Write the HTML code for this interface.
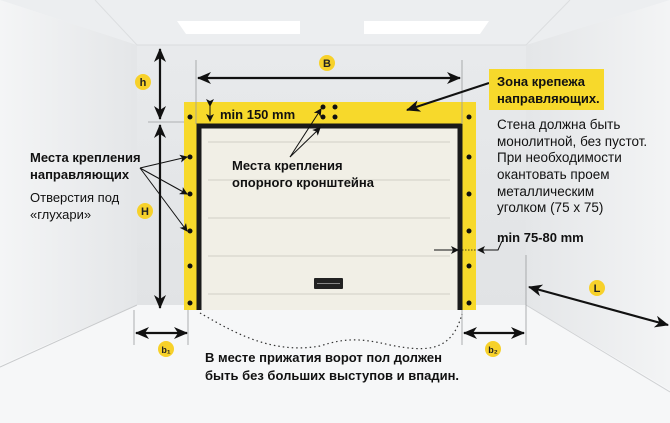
<!DOCTYPE html>
<html><head><meta charset="utf-8"><style>
html,body{margin:0;padding:0;background:#f2f3f4;}
svg{display:block;font-family:"Liberation Sans","Noto Sans CJK SC",sans-serif;}
.b{font-weight:bold;}
</style></head><body>
<svg width="670" height="423" viewBox="0 0 670 423" xmlns="http://www.w3.org/2000/svg">
<defs>
<linearGradient id="lw" x1="0" x2="1"><stop offset="0" stop-color="#f4f5f6"/><stop offset="1" stop-color="#e4e6e8"/></linearGradient>
<linearGradient id="rw" x1="0" x2="1"><stop offset="0" stop-color="#e4e6e8"/><stop offset="1" stop-color="#f3f4f5"/></linearGradient>
<linearGradient id="bw" x1="0" y1="0" x2="0" y2="1"><stop offset="0" stop-color="#e8eaec"/><stop offset="1" stop-color="#e1e3e5"/></linearGradient>
<marker id="ah" markerWidth="8" markerHeight="8" refX="7" refY="4" orient="auto" markerUnits="userSpaceOnUse"><path d="M0,0 L8,4 L0,8 L2,4z" fill="#111"/></marker>
<marker id="bh" markerWidth="14" markerHeight="12" refX="13" refY="6" orient="auto" markerUnits="userSpaceOnUse"><path d="M0,0 L14,6 L0,12 L4,6z" fill="#111"/></marker>
<marker id="bs" markerWidth="14" markerHeight="12" refX="1" refY="6" orient="auto" markerUnits="userSpaceOnUse"><path d="M14,0 L0,6 L14,12 L10,6z" fill="#111"/></marker>
</defs>
<rect width="670" height="423" fill="#f3f4f5"/>
<polygon points="0,0 670,0 526,45 137,45" fill="#eceef0"/>
<polygon points="0,0 137,45 137,305 0,365" fill="url(#lw)"/>
<polygon points="670,0 526,45 526,305 670,390" fill="url(#rw)"/>
<rect x="137" y="45" width="389" height="262" fill="url(#bw)"/>
<polygon points="0,365 137,305 526,305 670,390 670,423 0,423" fill="#f6f7f8"/>
<line x1="137" y1="305" x2="0" y2="367" stroke="#c8cacc" stroke-width="1"/>
<line x1="526" y1="305" x2="670" y2="392" stroke="#cfd1d3" stroke-width="1"/>
<line x1="137" y1="45" x2="95" y2="0" stroke="#dcdee0"/>
<line x1="526" y1="45" x2="570" y2="0" stroke="#dcdee0"/>
<line x1="137" y1="45" x2="526" y2="45" stroke="#dadcde"/>
<polygon points="177,21 300,21 300,34 186,34" fill="#fff"/>
<polygon points="364,21 489,21 480,34 364,34" fill="#fff"/>

<rect x="184" y="102" width="292" height="208" fill="#f7d92b"/>
<rect x="197" y="124" width="265" height="186" fill="#f1efe6"/>
<path d="M199,310 V126 H460 V310" fill="none" stroke="#1a1a1a" stroke-width="5"/>
<g stroke="#dcdad0" stroke-width="1.5">
<line x1="208" y1="142" x2="450" y2="142"/><line x1="208" y1="180" x2="450" y2="180"/>
<line x1="208" y1="218" x2="450" y2="218"/><line x1="208" y1="256" x2="450" y2="256"/>
<line x1="208" y1="294" x2="450" y2="294"/>
</g>
<rect x="314" y="278" width="29" height="11" rx="1" fill="#222"/>
<line x1="317" y1="283.5" x2="340" y2="283.5" stroke="#888" stroke-width="1"/>
<g fill="#111">
<circle cx="190" cy="117" r="2.5"/><circle cx="190" cy="157" r="2.5"/><circle cx="190" cy="194" r="2.5"/>
<circle cx="190" cy="231" r="2.5"/><circle cx="190" cy="266" r="2.5"/><circle cx="190" cy="303" r="2.5"/>
<circle cx="469" cy="117" r="2.5"/><circle cx="469" cy="157" r="2.5"/><circle cx="469" cy="194" r="2.5"/>
<circle cx="469" cy="231" r="2.5"/><circle cx="469" cy="266" r="2.5"/><circle cx="469" cy="303" r="2.5"/>
<circle cx="323" cy="107" r="2.5"/><circle cx="335" cy="107" r="2.5"/><circle cx="323" cy="117" r="2.5"/><circle cx="335" cy="117" r="2.5"/>
</g>

<g stroke="#9a9c9e" stroke-width="0.8">
<line x1="196" y1="60" x2="196" y2="124"/><line x1="462" y1="60" x2="462" y2="124"/>
<line x1="148" y1="122" x2="184" y2="122"/>
<line x1="134" y1="310" x2="134" y2="345"/><line x1="188" y1="310" x2="188" y2="345"/>
<line x1="462" y1="310" x2="462" y2="345"/><line x1="526" y1="255" x2="526" y2="345"/>
</g>

<g stroke="#111" stroke-width="2.2" fill="none">
<line x1="160" y1="49" x2="160" y2="119" marker-start="url(#bs)" marker-end="url(#bh)"/>
<line x1="160" y1="125" x2="160" y2="308" marker-start="url(#bs)" marker-end="url(#bh)"/>
<line x1="198" y1="78" x2="460" y2="78" marker-start="url(#bs)" marker-end="url(#bh)"/>
<line x1="136" y1="333" x2="187" y2="333" marker-start="url(#bs)" marker-end="url(#bh)"/>
<line x1="464" y1="333" x2="524" y2="333" marker-start="url(#bs)" marker-end="url(#bh)"/>
<line x1="529" y1="287" x2="668" y2="325" marker-start="url(#bs)" marker-end="url(#bh)"/>
</g>
<g stroke="#111" stroke-width="1" fill="none">
<line x1="210" y1="106" x2="210" y2="121" marker-start="url(#ah)" marker-end="url(#ah)"/>
<line x1="140" y1="168" x2="187" y2="157" marker-end="url(#ah)"/>
<line x1="140" y1="168" x2="187" y2="194" marker-end="url(#ah)"/>
<line x1="140" y1="168" x2="187" y2="231" marker-end="url(#ah)"/>
<line x1="290" y1="157" x2="321" y2="109" marker-end="url(#ah)"/>
<line x1="290" y1="157" x2="320" y2="128" marker-end="url(#ah)"/>
<line x1="434" y1="250" x2="458" y2="250" marker-end="url(#ah)"/>
<polyline points="502,241 498,250 478,250" marker-end="url(#ah)"/>
</g>
<line x1="489" y1="83" x2="407" y2="110" stroke="#111" stroke-width="2" marker-end="url(#bh)"/>
<line x1="462" y1="250" x2="476" y2="250" stroke="#111" stroke-width="0.8" stroke-dasharray="1.5,1.5"/>
<path d="M200,313 C230,330 270,355 320,346 C345,338 360,338 390,345 C430,353 452,350 462,314" fill="none" stroke="#333" stroke-width="1.2" stroke-dasharray="1.5,3"/>

<g fill="#f7d12a"><circle cx="143" cy="82" r="8"/><circle cx="145" cy="211" r="8"/><circle cx="327" cy="63" r="8"/>
<circle cx="597" cy="288" r="8"/><circle cx="166" cy="349" r="8"/><circle cx="493" cy="349" r="8"/></g>
<g class="b" font-size="11" fill="#222" text-anchor="middle">
<text x="143" y="86">h</text><text x="145" y="215">H</text><text x="327" y="67">B</text><text x="597" y="292">L</text>
<text x="166" y="353" font-size="9">b₁</text><text x="493" y="353" font-size="9">b₂</text>
</g>

<rect x="489" y="69" width="115" height="41" fill="#f7d92b"/>
<g fill="#111" font-size="13">
<text class="b" x="497" y="86">Зона крепежа</text>
<text class="b" x="497" y="103">направляющих.</text>
<g font-size="13.5">
<text x="497" y="129">Стена должна быть</text>
<text x="497" y="146">монолитной, без пустот.</text>
<text x="497" y="162">При необходимости</text>
<text x="497" y="179">окантовать проем</text>
<text x="497" y="196">металлическим</text>
<text x="497" y="212">уголком (75 x 75)</text>
</g>
<text class="b" x="497" y="242">min 75-80 mm</text>
<text class="b" x="220" y="119">min 150 mm</text>
<text class="b" x="30" y="162">Места крепления</text>
<text class="b" x="30" y="179">направляющих</text>
<text x="30" y="202">Отверстия под</text>
<text x="30" y="219">«глухари»</text>
<text class="b" x="232" y="170">Места крепления</text>
<text class="b" x="232" y="187">опорного кронштейна</text>
<text class="b" x="205" y="362">В месте прижатия ворот пол должен</text>
<text class="b" x="205" y="380">быть без больших выступов и впадин.</text>
</g>
</svg>
</body></html>
